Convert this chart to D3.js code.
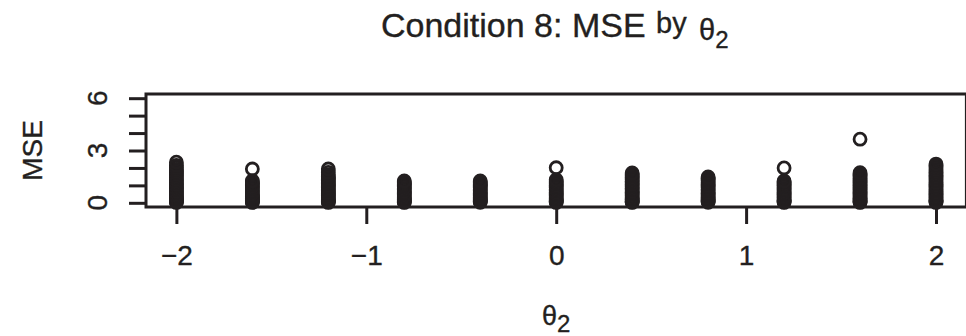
<!DOCTYPE html>
<html>
<head>
<meta charset="utf-8">
<script src="https://cdn.jsdelivr.net/npm/d3@7"></script>
<style>
  body { margin: 0; background: #fff; }
  text { font-family: "Liberation Sans", Arial, Helvetica, sans-serif; fill: #231f20; stroke: #231f20; stroke-width: 0.35px; }
</style>
</head>
<body>
<div id="chart"></div>
<script>
// theta_2 levels (x positions of the columns)
const theta2Levels = [-2, -1.6, -1.2, -0.8, -0.4, 0, 0.4, 0.8, 1.2, 1.6, 2];

// MSE values, one array per theta_2 level
const mseM20 = [0.02,0.06,0.1,0.15,0.2,0.26,0.32,0.38,0.45,0.52,0.6,0.68,0.76,0.84,0.92,1.0,1.08,1.17,1.26,1.35,1.45,1.55,1.65,1.74,1.83,1.92,2.03,2.14,2.33];
const mseM16 = [0.02,0.05,0.09,0.14,0.19,0.25,0.31,0.37,0.44,0.51,0.58,0.66,0.74,0.82,0.9,0.98,1.06,1.13,1.2,1.26,1.94];
const mseM12 = [0.02,0.06,0.1,0.15,0.21,0.27,0.33,0.4,0.47,0.54,0.62,0.7,0.78,0.86,0.94,1.02,1.1,1.18,1.26,1.34,1.42,1.5,1.6,1.74,1.94];
const mseM08 = [0.02,0.05,0.09,0.14,0.2,0.26,0.32,0.39,0.46,0.53,0.6,0.68,0.76,0.84,0.92,1.0,1.07,1.13,1.19,1.25];
const mseM04 = [0.03,0.07,0.11,0.16,0.22,0.28,0.34,0.41,0.48,0.55,0.62,0.7,0.78,0.86,0.94,1.01,1.07,1.13,1.19,1.25];
const mse000 = [0.02,0.06,0.1,0.15,0.2,0.26,0.33,0.4,0.47,0.54,0.62,0.7,0.78,0.86,0.94,1.02,1.1,1.18,1.25,1.32,2.01];
const mseP04 = [0.02,0.05,0.09,0.14,0.2,0.26,0.32,0.39,0.46,0.53,0.6,0.68,0.76,0.84,0.92,1.0,1.08,1.16,1.24,1.32,1.4,1.48,1.56,1.64,1.71];
const mseP08 = [0.03,0.07,0.11,0.16,0.22,0.28,0.34,0.41,0.48,0.55,0.62,0.7,0.78,0.86,0.94,1.02,1.1,1.18,1.26,1.34,1.41,1.48];
const mseP12 = [0.02,0.06,0.1,0.15,0.21,0.27,0.33,0.4,0.47,0.54,0.61,0.69,0.77,0.85,0.93,1.01,1.08,1.14,1.2,1.25,2.0];
const mseP16 = [0.02,0.05,0.09,0.14,0.2,0.26,0.32,0.39,0.46,0.53,0.61,0.69,0.77,0.85,0.93,1.01,1.09,1.17,1.25,1.33,1.41,1.49,1.57,1.64,1.73,3.65];
const mseP20 = [0.02,0.06,0.1,0.15,0.21,0.27,0.33,0.4,0.47,0.54,0.62,0.7,0.78,0.86,0.94,1.02,1.1,1.18,1.27,1.36,1.45,1.54,1.63,1.72,1.82,1.92,2.02,2.12,2.22];

const mseColumns = [mseM20, mseM16, mseM12, mseM08, mseM04, mse000, mseP04, mseP08, mseP12, mseP16, mseP20];

// tick values
const xTicks = [-2, -1, 0, 1, 2];
const yTicks = [0, 1, 2, 3, 4, 5, 6];
const yTickLabels = [0, 3, 6];

const ink = "#231f20";

// build the point table
let data = [];
theta2Levels.forEach(function (t, i) {
  mseColumns[i].forEach(function (v) {
    data.push({ x: t, y: v });
  });
});

// plot region (R style, 4% padding on both axes)
let plot = { left: 146, right: 966.4, top: 94, bottom: 207 };

let x = d3.scaleLinear().domain([-2.16, 2.16]).range([plot.left, plot.right]);
let y = d3.scaleLinear().domain([-0.24, 6.24]).range([plot.bottom, plot.top]);

let svg = d3.select("#chart").append("svg")
  .attr("width", 966)
  .attr("height", 336);

// points
svg.append("g")
  .selectAll("circle")
  .data(data)
  .enter().append("circle")
  .attr("cx", function (d) { return x(d.x); })
  .attr("cy", function (d) { return y(d.y); })
  .attr("r", 6)
  .style("fill", "none")
  .style("stroke", ink)
  .style("stroke-width", 2.8);

// box
svg.append("rect")
  .attr("x", plot.left)
  .attr("y", plot.top)
  .attr("width", plot.right - plot.left)
  .attr("height", plot.bottom - plot.top)
  .style("fill", "none")
  .style("stroke", ink)
  .style("stroke-width", 3);

// x axis
let xAxis = svg.append("g")
  .attr("transform", "translate(0," + plot.bottom + ")")
  .call(d3.axisBottom(x).tickValues(xTicks).tickSize(17).tickSizeOuter(0)
    .tickFormat(function (d) { return d < 0 ? "\u2212" + Math.abs(d) : d; }));
xAxis.select(".domain").remove();
xAxis.selectAll(".tick line").style("stroke", ink).style("stroke-width", 3);
xAxis.selectAll(".tick text")
  .attr("y", 58).attr("dy", null)
  .style("font-size", "28px")
  .style("font-family", "\"Liberation Sans\", Arial, sans-serif")
  .style("fill", ink);

// y axis
let yAxis = svg.append("g")
  .attr("transform", "translate(" + plot.left + ",0)")
  .call(d3.axisLeft(y).tickValues(yTicks).tickSize(17).tickSizeOuter(0).tickFormat(""));
yAxis.select(".domain").remove();
yAxis.selectAll(".tick line").style("stroke", ink).style("stroke-width", 3);

svg.append("g")
  .selectAll("text")
  .data(yTickLabels)
  .enter().append("text")
  .attr("transform", function (d) { return "translate(107," + y(d) + ") rotate(-90)"; })
  .style("text-anchor", "middle")
  .style("font-size", "28px")
  .text(function (d) { return d; });

// y label
svg.append("text")
  .attr("transform", "translate(42," + (plot.top + plot.bottom) / 2 + ") rotate(-90)")
  .style("text-anchor", "middle")
  .style("font-size", "28px")
  .text("MSE");

// x label
let xl = svg.append("text")
  .attr("x", 542)
  .attr("y", 325)
  .style("font-size", "27px");
xl.append("tspan").text("\u03b8");
xl.append("tspan").attr("dy", 7).style("font-size", "24px").text("2");

// title
svg.append("text")
  .attr("x", 381)
  .attr("y", 37)
  .style("font-size", "34px")
  .text("Condition 8: MSE");
svg.append("text")
  .attr("x", 656)
  .attr("y", 33)
  .style("font-size", "29px")
  .text("by");
let tl = svg.append("text")
  .attr("x", 699)
  .attr("y", 40)
  .style("font-size", "29px");
tl.append("tspan").text("\u03b8");
tl.append("tspan").attr("dy", 8).style("font-size", "24px").text("2");
</script>
</body>
</html>
